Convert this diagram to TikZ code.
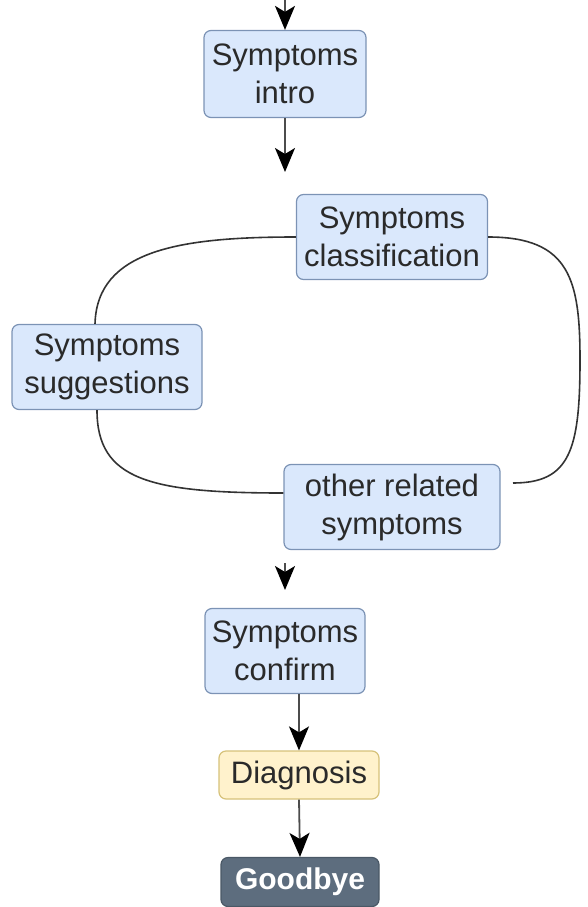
\documentclass[tikz,border=0pt]{standalone}
\usepackage{fontspec}
\setmainfont{Liberation Sans}
\usetikzlibrary{arrows.meta}

\definecolor{stepfill}{HTML}{DAE8FC}
\definecolor{stepline}{HTML}{7C93B5}
\definecolor{diagfill}{HTML}{FFF2CC}
\definecolor{diagline}{HTML}{D6C27A}
\definecolor{byefill}{HTML}{5D6D7E}
\definecolor{byeline}{HTML}{4A5866}
\definecolor{textgrey}{HTML}{2A2A2A}

\tikzset{
  box/.style={rectangle, rounded corners=7pt, line width=1.2pt, align=center,
    inner sep=0pt, font=\fontsize{31}{38}\selectfont, text=textgrey},
  stepbox/.style={box, fill=stepfill, draw=stepline},
  diagbox/.style={box, fill=diagfill, draw=diagline},
  byebox/.style={box, fill=byefill, draw=byeline, text=white, font=\fontsize{30}{36}\selectfont\bfseries},
  flow/.style={-{Stealth[length=24pt, width=20pt, inset=6pt, fill=black, color=black]}, line width=1.8pt, draw=black!70},
  loop/.style={line width=1.6pt, draw=black!80}
}

\begin{document}
\begin{tikzpicture}[x=1pt, y=-1pt]
\useasboundingbox (0,0) rectangle (587,907);
% Nodes
\node[stepbox, minimum width=162pt, minimum height=87pt] (intro) at (285,74) {Symptoms\\intro};
\node[stepbox, minimum width=191pt, minimum height=85pt] (class) at (392,237) {Symptoms\\classification};
\node[stepbox, minimum width=190pt, minimum height=85pt] (sugg) at (107,367) {Symptoms\\suggestions};
\node[stepbox, minimum width=216pt, minimum height=85pt] (other) at (392,507) {other related\\symptoms};
\node[stepbox, minimum width=160pt, minimum height=85pt] (confirm) at (285,651) {Symptoms\\confirm};
\node[diagbox, minimum width=160pt, minimum height=48pt] (diag) at (299,775) {Diagnosis};
\node[byebox, minimum width=158pt, minimum height=49pt] (bye) at (300,882) {Goodbye};
% Free ends of the arrows
\coordinate (top) at (285,0);
\coordinate (introend) at (285,172);
\coordinate (otherstart) at (285,563);
\coordinate (otherend) at (285,590);
% Arrows
\draw[flow] (top) -- (intro.north);
\draw[flow] (intro.south) -- (introend);
\draw[flow] (otherstart) -- (otherend);
\draw[flow] (confirm.south -| diag.north) -- (diag.north);
\draw[flow] (diag.south) -- (bye.north);
% Loop between the middle steps
\draw[loop] (class.west) .. controls (180,237) and (97,250) .. (sugg.north -| 95,0);
\draw[loop] (class.east) .. controls (570,237) and (580,280) .. (580,360)
  .. controls (580,450) and (570,483) .. (513,483);
\draw[loop] (sugg.south -| 97,0) .. controls (97,480) and (150,493) .. (other.west |- 0,493);
\end{tikzpicture}
\end{document}
